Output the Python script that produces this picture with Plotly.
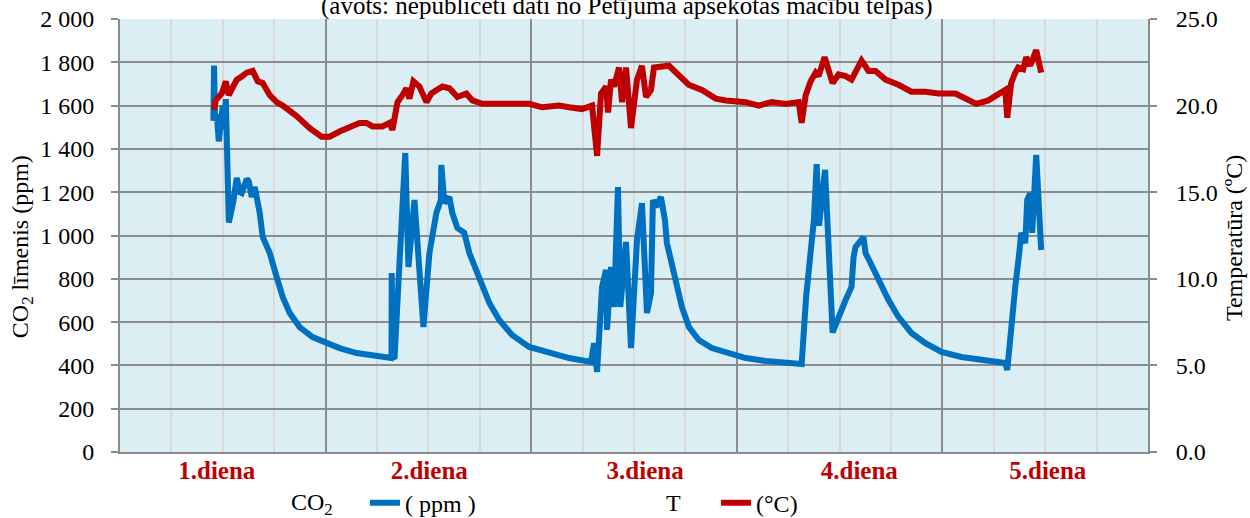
import plotly.graph_objects as go

# ---- data (hours from start of day 1, value) ----
co2_hours = [10.90, 10.98, 11.10, 11.30, 11.53, 11.90, 12.00, 12.15, 12.35, 12.70,
             13.20, 13.63, 14.00, 14.21, 14.80, 15.03, 15.38, 15.73, 16.31, 16.66,
             17.48, 18.29, 18.99, 19.81, 20.97, 22.48, 24.12, 25.63, 27.61, 29.94,
             31.69, 31.72, 31.80, 32.04, 33.30, 33.67, 34.37, 35.42, 36.12, 36.93,
             37.45, 37.51, 37.86, 38.45, 38.79, 39.38, 40.19, 40.78, 41.94, 43.11,
             44.27, 45.78, 47.77, 50.10, 52.43, 54.99, 55.34, 55.69, 56.27, 56.74,
             56.85, 57.32, 57.67, 58.13, 58.40, 59.07, 59.65, 60.35, 60.93, 61.51,
             61.98, 62.21, 62.56, 63.14, 63.61, 63.84, 64.89, 65.59, 66.41, 67.57,
             69.08, 71.07, 73.05, 75.38, 77.71, 79.57, 80.10, 80.70, 81.00, 81.32,
             81.60, 82.30, 82.72, 83.18, 84.70, 85.39, 85.63, 85.86, 86.79, 87.03,
             87.61, 88.54, 89.71, 90.87, 92.38, 94.02, 95.88, 98.21, 100.54, 103.34,
             103.57, 104.03, 104.50, 104.97, 105.20, 105.67, 105.90, 106.25, 106.48, 106.95,
             107.18, 107.53]
co2_ppm = [1530, 1785, 1530, 1560, 1435, 1560, 1600, 1490, 1630, 1060,
           1150, 1266, 1200, 1196, 1261, 1250, 1178, 1224, 1104, 993,
           919, 808, 716, 642, 577, 531, 503, 480, 457, 443,
           434, 827, 440, 430, 1381, 855, 1164, 577, 919, 1104,
           1164, 1326, 1150, 1178, 1104, 1035, 1012, 919, 794, 688,
           610, 540, 485, 457, 434, 416, 503, 370, 762, 841,
           564, 855, 670, 1224, 670, 970, 480, 979, 1150, 642,
           734, 1164, 1132, 1178, 1072, 965, 781, 670, 577, 517,
           480, 457, 434, 420, 411, 406, 720, 960, 1072, 1330,
           1045, 1303, 947, 552, 702, 762, 900, 947, 993, 919,
           873, 794, 702, 624, 550, 503, 462, 439, 425, 411,
           379, 596, 762, 919, 1012, 965, 1164, 1196, 1012, 1372,
           1132, 933]

t_hours = [10.95, 11.18, 11.88, 12.35, 12.70, 13.63, 13.98, 14.80, 15.49, 16.08,
           16.66, 17.48, 18.29, 18.99, 20.62, 22.14, 23.53, 24.47, 25.63, 26.80,
           27.96, 28.78, 29.47, 30.64, 31.46, 31.80, 32.39, 32.97, 33.44, 33.79,
           34.25, 34.95, 35.77, 36.35, 37.63, 38.45, 39.38, 40.43, 41.12, 42.29,
           44.62, 47.77, 49.28, 51.26, 52.43, 53.94, 55.10, 55.69, 56.15, 56.74,
           56.97, 57.32, 57.67, 58.25, 58.60, 59.07, 59.65, 60.35, 60.93, 61.40,
           61.98, 62.33, 64.08, 65.24, 66.41, 67.92, 69.55, 70.72, 72.23, 73.05,
           74.56, 76.07, 77.71, 79.22, 79.57, 80.04, 80.62, 81.20, 81.55, 82.25,
           83.18, 83.88, 84.70, 85.39, 86.56, 87.38, 88.19, 89.36, 90.87, 92.38,
           94.02, 95.53, 97.51, 98.68, 99.96, 101.36, 103.34, 103.57, 104.03, 104.50,
           104.85, 105.43, 105.78, 106.25, 106.60, 106.95, 107.53]
t_celsius = [19.75, 20.3, 20.7, 21.4, 20.6, 21.5, 21.6, 21.9, 22.0, 21.4,
             21.3, 20.6, 20.2, 20.0, 19.4, 18.7, 18.2, 18.2, 18.5, 18.8,
             19.0, 19.0, 18.8, 18.8, 19.0, 18.6, 20.2, 20.6, 21.0, 20.4,
             21.4, 21.1, 20.2, 20.7, 21.1, 21.0, 20.5, 20.7, 20.3, 20.1,
             20.1, 20.1, 19.9, 20.0, 19.9, 19.8, 20.0, 17.1, 20.7, 21.1,
             19.6, 21.5, 21.1, 22.2, 20.2, 22.2, 18.7, 21.5, 22.3, 20.5,
             20.9, 22.2, 22.3, 21.7, 21.2, 20.9, 20.4, 20.3, 20.2, 20.2,
             20.0, 20.2, 20.1, 20.2, 19.0, 20.6, 21.4, 21.9, 21.7, 22.8,
             21.3, 21.8, 21.7, 21.5, 22.6, 22.0, 22.0, 21.5, 21.2, 20.8,
             20.8, 20.7, 20.7, 20.4, 20.1, 20.3, 20.9, 19.3, 21.3, 21.9,
             22.2, 22.1, 22.8, 22.3, 22.8, 23.2, 21.9]

day_label_pos = [11.3, 36.1, 61.3, 86.3, 108.3]
day_labels = ["1.diena", "2.diena", "3.diena", "4.diena", "5.diena"]
six_hour_lines = [6, 12, 18, 30, 36, 42, 54, 60, 66, 78, 84, 90, 102, 108, 114]

FONT = "Liberation Serif"
GRID_DARK = "#8C8C8C"
GRID_LIGHT = "#D9D9D9"
BLUE = "#0070C0"
RED = "#C00000"

fig = go.Figure()
fig.add_trace(go.Scatter(x=co2_hours, y=co2_ppm, mode="lines", name="( ppm )",
                         line=dict(color=BLUE, width=6), xaxis="x", yaxis="y",
                         legend="legend"))
fig.add_trace(go.Scatter(x=t_hours, y=t_celsius, mode="lines", name="(°C)",
                         line=dict(color=RED, width=6), xaxis="x2", yaxis="y2",
                         legend="legend2"))

fig.update_layout(
    width=1250, height=518,
    margin=dict(l=120, r=102, t=19, b=66, autoexpand=False),
    paper_bgcolor="white", plot_bgcolor="#DAEEF3",
    font=dict(family=FONT, size=24, color="black"),
    separators=". ",
    showlegend=True,
    xaxis=dict(range=[0, 120], tickmode="array", tickvals=day_label_pos,
               ticktext=["<b>%s</b>" % s for s in day_labels],
               tickfont=dict(family=FONT, size=25, color=RED),
               ticks="", showgrid=False, zeroline=False, automargin=False,
               showline=True, linecolor=GRID_DARK, linewidth=2,
               ticklabelstandoff=-5,
               minor=dict(tickmode="array", tickvals=six_hour_lines, showgrid=True,
                          gridcolor=GRID_LIGHT, gridwidth=2, ticks="")),
    xaxis2=dict(range=[0, 120], overlaying="x", anchor="y2", side="bottom",
                tickmode="linear", tick0=0, dtick=24, showticklabels=False,
                showgrid=True, gridcolor=GRID_DARK, gridwidth=2,
                zeroline=False, ticks="", showline=False, automargin=False),
    yaxis=dict(range=[0, 2000], tickmode="linear", dtick=200, tickformat=",d",
               showgrid=True, gridcolor=GRID_DARK, gridwidth=2, zeroline=False,
               showline=True, linecolor=GRID_DARK, linewidth=2, automargin=False,
               ticks="outside", ticklen=7, tickwidth=2, tickcolor=GRID_DARK,
               ticklabelstandoff=12),
    yaxis2=dict(range=[0, 25], tickmode="linear", dtick=5, tickformat=".1f",
                overlaying="y", side="right", anchor="x2",
                showgrid=False, zeroline=False, automargin=False,
                showline=True, linecolor=GRID_DARK, linewidth=2,
                ticks="outside", ticklen=7, tickwidth=2, tickcolor=GRID_DARK,
                ticklabelstandoff=14),
    legend=dict(orientation="h", x=0.2383, xanchor="left", y=-0.118, yanchor="middle",
                bgcolor="rgba(0,0,0,0)", font=dict(family=FONT, size=24),
                itemwidth=30),
    legend2=dict(orientation="h", x=0.5798, xanchor="left", y=-0.118, yanchor="middle",
                 bgcolor="rgba(0,0,0,0)", font=dict(family=FONT, size=24),
                 itemwidth=30),
)

annotations = [
    dict(text="(avots: nepublicēti dati no Pētījuma apsekotās mācību telpas)",
         xref="paper", yref="paper", x=0.493, y=1.029, xanchor="center", yanchor="middle",
         showarrow=False, font=dict(family=FONT, size=25)),
    dict(text="CO<sub>2</sub> līmenis (ppm)", textangle=-90,
         xref="paper", yref="paper", x=0, y=0.473, xanchor="center", yanchor="middle",
         xshift=-98, showarrow=False, font=dict(family=FONT, size=24)),
    dict(text="Temperatūra (ºC)", textangle=-90,
         xref="paper", yref="paper", x=1, y=0.494, xanchor="center", yanchor="middle",
         xshift=86, showarrow=False, font=dict(family=FONT, size=24)),
    dict(text="CO<sub>2</sub>", xref="paper", yref="paper", x=(312 - 120) / 1028,
         y=-0.119, xanchor="center", yanchor="middle", showarrow=False,
         font=dict(family=FONT, size=24)),
    dict(text="T", xref="paper", yref="paper", x=(673 - 120) / 1028,
         y=-0.118, xanchor="center", yanchor="middle", showarrow=False,
         font=dict(family=FONT, size=24)),
]
fig.update_layout(annotations=annotations)

fig.write_html("out.html", config={"displayModeBar": False},
               post_script="document.body.style.margin='0';")
